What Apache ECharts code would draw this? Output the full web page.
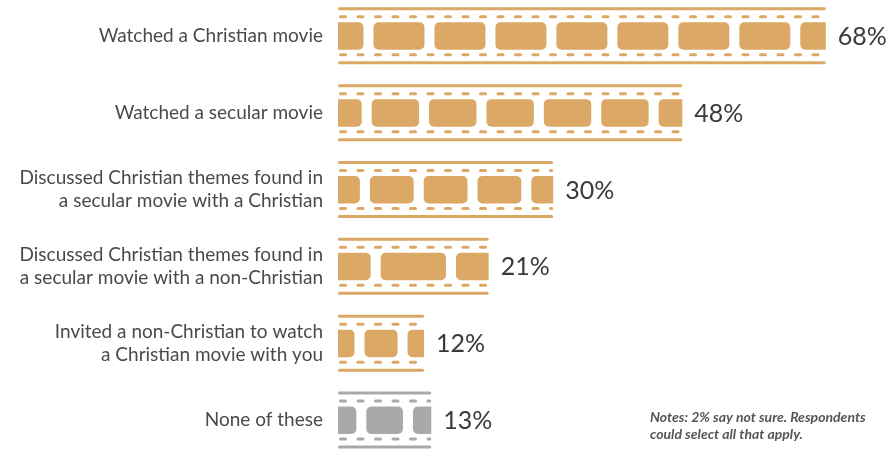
<!DOCTYPE html>
<html>
<head>
<meta charset="utf-8">
<script src="https://cdn.jsdelivr.net/npm/echarts@6/dist/echarts.min.js"></script>
<style>html,body{margin:0;padding:0;background:#fff}#c{width:890px;height:450px}</style>
</head>
<body>
<div id="c"></div>
<script>
const categories = [
  "Watched a Christian movie",
  "Watched a secular movie",
  "Discussed Christian themes found in\na secular movie with a Christian",
  "Discussed Christian themes found in\na secular movie with a non-Christian",
  "Invited a non-Christian to watch\na Christian movie with you",
  "None of these"
];
const values = [68, 48, 30, 21, 12, 13];
const notes = "Notes: 2% say not sure. Respondents\ncould select all that apply.";

const ORANGE = '#DCA865';
const GRAY = '#A9A9A9';
const FONT = 'Lato, "Noto Sans", sans-serif';

function renderItem(params, api) {
  const idx = api.value(1);
  const v = api.value(0);
  const s = api.coord([0, idx]);
  const e = api.coord([v, idx]);
  const x0 = s[0], x1 = e[0], cy = s[1];
  const L = x1 - x0;
  const color = idx === categories.length - 1 ? GRAY : ORANGE;
  const ch = [];
  ch.push({type: 'rect', shape: {x: x0, y: cy - 28.5, width: L, height: 3, r: 1.5}, style: {fill: color}});
  ch.push({type: 'rect', shape: {x: x0, y: cy + 25.5, width: L, height: 3, r: 1.5}, style: {fill: color}});
  for (let x = x0 + 1; x < x1 - 1; x += 17.5) {
    const w = Math.min(8, x1 - x);
    ch.push({type: 'rect', shape: {x: x, y: cy - 20.5, width: w, height: 3, r: 1.5}, style: {fill: color}});
    ch.push({type: 'rect', shape: {x: x, y: cy + 17.5, width: w, height: 3, r: 1.5}, style: {fill: color}});
  }
  const n = Math.max(2, Math.round(L / 60.5));
  const P = L / n;
  const gap = 10;
  const fw = P - gap;
  for (let k = 0; k <= n; k++) {
    let fx = x0 + k * P - fw / 2;
    let fx2 = fx + fw;
    const lc = fx < x0, rc = fx2 > x1;
    fx = Math.max(fx, x0); fx2 = Math.min(fx2, x1);
    if (fx2 - fx < 1) continue;
    ch.push({type: 'rect', shape: {x: fx, y: cy - 13.5, width: fx2 - fx, height: 27.5,
      r: [lc ? 0 : 5, rc ? 0 : 5, rc ? 0 : 5, lc ? 0 : 5]}, style: {fill: color}});
  }
  ch.push({type: 'text', x: x1 + 12, y: cy + 1, style: {text: v + '%', fill: '#3a3a3a',
    font: '25px ' + FONT, verticalAlign: 'middle', align: 'left'}});
  return {type: 'group', children: ch};
}

const chart = echarts.init(document.getElementById('c'), null, {renderer: 'canvas'});
chart.setOption({
  animation: false,
  backgroundColor: '#fff',
  grid: {left: 338, right: 14, top: -2.6, bottom: -8.4, outerBoundsMode: 'none', containLabel: false},
  xAxis: {type: 'value', min: 0, max: 75, show: false},
  yAxis: {
    type: 'category', data: categories, inverse: true,
    axisLine: {show: false}, axisTick: {show: false}, splitLine: {show: false},
    axisLabel: {margin: 15, color: '#4a4a4a', fontSize: 19, fontFamily: FONT, lineHeight: 23, align: 'right'}
  },
  series: [{
    type: 'custom',
    renderItem: renderItem,
    encode: {x: 0, y: 1},
    data: values.map((v, i) => [v, i]),
    clip: false
  }],
  graphic: [{
    type: 'text', left: 650, top: 409,
    style: {text: notes, fill: '#555', font: 'italic bold 14px ' + FONT, lineHeight: 17}
  }]
});
</script>
</body>
</html>
